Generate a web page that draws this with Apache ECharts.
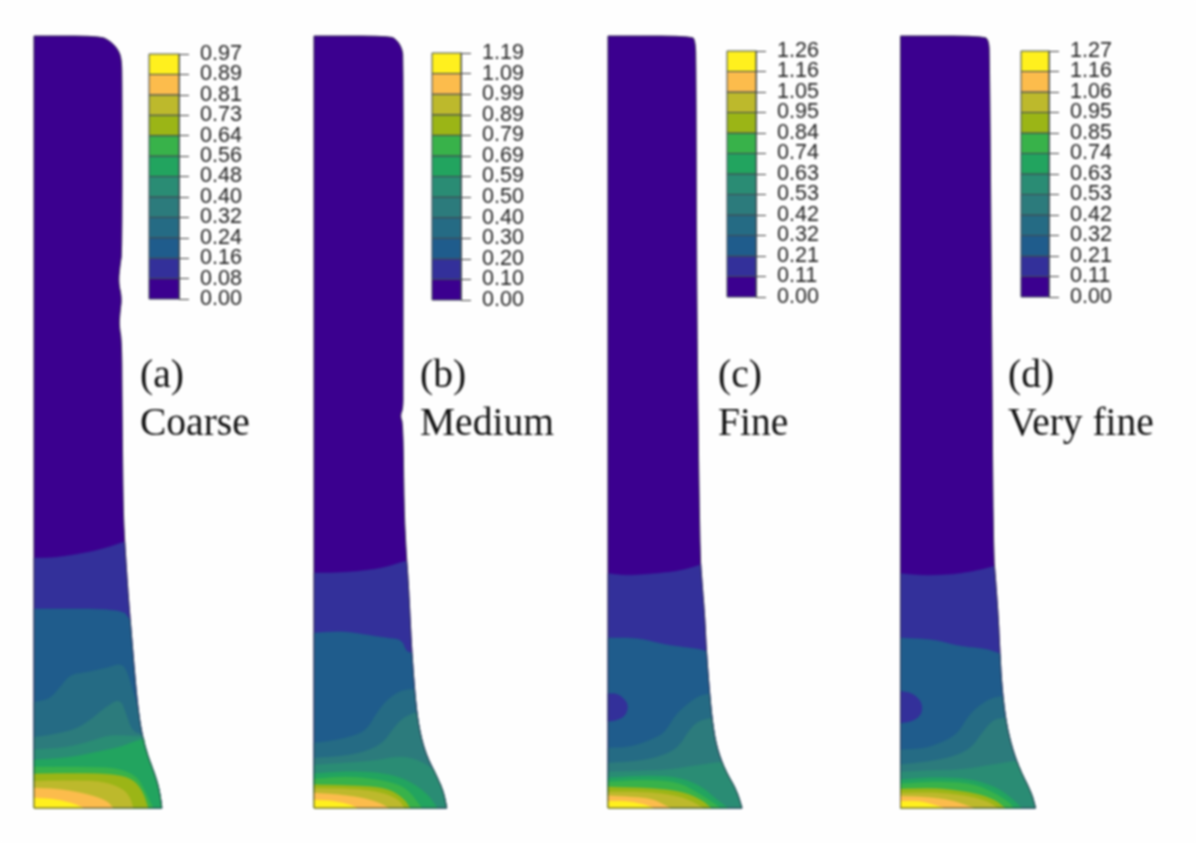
<!DOCTYPE html>
<html><head><meta charset="utf-8">
<style>html,body{margin:0;padding:0;background:#fefefe}#main{width:1196px;height:843px;filter:blur(0.8px)}</style>
<script src="https://cdn.jsdelivr.net/npm/echarts@6/dist/echarts.min.js"></script>
</head><body><div id="main"></div>
<script>
// Contour colours, lowest band first
const bandColors = ['#3B008F','#33309A','#1F5C8C','#256B84','#2C7B7C','#2A8C74','#22A45F','#38B24A','#9BB516','#BDB92C','#FCBC4C','#FFF01E'];

// Colour-bar tick labels, bottom to top
const ticksCoarse = ['0.00','0.08','0.16','0.24','0.32','0.40','0.48','0.56','0.64','0.73','0.81','0.89','0.97'];
const ticksMedium = ['0.00','0.10','0.20','0.30','0.40','0.50','0.59','0.69','0.79','0.89','0.99','1.09','1.19'];
const ticksFine = ['0.00','0.11','0.21','0.32','0.42','0.53','0.63','0.74','0.84','0.95','1.05','1.16','1.26'];
const ticksVeryFine = ['0.00','0.11','0.21','0.32','0.42','0.53','0.63','0.74','0.85','0.95','1.06','1.16','1.27'];

// Specimen outlines: right-hand edge from top to bottom [x, height]
const outlineCoarse = [[0,772],[66,772],[76,767],[83.7,759],[87.3,750],[88,730],[88,556],[86,543],[84.3,526],[87.7,510],[86,496],[85,483],[87.7,466],[88,408],[89,308],[90,278],[92,245],[94.3,211],[97,178],[100.3,138],[103.3,105],[107,78],[112.7,55],[121,33],[125.3,18],[127.7,1],[127.7,0]];
const outlineMedium = [[0,772],[76,772],[82.7,768],[87.7,760],[89.3,750],[89,420],[89,400],[86,392],[89,384],[90,300],[92,258],[94.3,225],[96,191.7],[97.7,158],[100,125],[102.7,95],[106.7,71.7],[112.7,51.7],[122.7,31.7],[129.3,16.7],[132.7,0]];
const outlineFine = [[0,772],[84,772],[87,767],[88,750],[88.7,500],[91.7,258],[94,225],[96.7,191.7],[98.3,158],[100.7,125],[104,88.3],[108.3,61.7],[116.7,38.3],[128.3,18.3],[134,0]];
const outlineVeryFine = [[0,772],[84,772],[88,767],[89,755],[91,500],[92.7,258],[95.3,225],[97.7,191.7],[99.3,158],[101,125],[105,88.3],[111,61.7],[119.3,38.3],[131,15],[135,0]];

// Contour lines: each runs from the left edge to the outline or the base
const contoursCoarse = [
  [[0,250],[19,250],[46,254],[69,259],[90,266]],
  [[0,199],[88,199],[96,188]],
  [[0,105.7],[16,109],[26,120.7],[36,133.3],[52.7,135.7],[72.7,140],[87.7,144.7],[93.3,135.7],[98.7,117.3],[103.5,100.7]],
  [[0,70.7],[19.3,73.3],[42.7,79],[57.7,89],[69.3,99],[86,110],[92,94],[97.7,77.3],[108,73.3]],
  [[0,58.5],[30,60],[55,66],[75,73],[95,72],[108.5,71.5]],
  [[0,48],[36,50.3],[62.7,56],[86,60.7],[101,66.7],[110,69]],
  [[0,41],[52.7,41],[82.7,40],[102.7,32],[111,17],[119,0]],
  [[0,34],[36,34.7],[79,34],[99,29],[109,16],[114,0]],
  [[0,26.7],[36,27.3],[69,26.7],[89,19],[96,10.7],[99,0]],
  [[0,20],[26,19],[53,14],[73,7.3],[79,0]],
  [[0,10],[19,9],[39,4.7],[49,0]]
];
const contoursMedium = [
  [[0,235],[19.3,235],[46,236.7],[69.3,240],[91,246.7]],
  [[0,175],[29.3,176.7],[52.7,173],[72.7,170],[87.7,168.3],[92,156.7],[97.7,155]],
  [[0,65],[16,66.7],[39,71.7],[52.7,78],[62.7,95],[72.7,108],[86,117],[97,119],[100,118.3]],
  [[0,50],[29.3,51.7],[52.7,56.7],[69.3,65],[81,81.7],[89.3,90],[99.3,95],[102.7,95]],
  [[0,43],[30,45],[60,47],[85,52],[105,48],[120,38]],
  [[0,34.3],[36,36.7],[69.3,35],[92.7,28.3],[112.7,15],[123.3,0]],
  [[0,29],[36,31.7],[72.7,27],[92.7,20],[107.7,0]],
  [[0,23.3],[42.7,22.3],[72.7,20],[89.3,10],[96,0]],
  [[0,19.5],[42.7,19],[70,15],[85,8],[90,0]],
  [[0,15],[26,13.3],[49.3,10],[66,5],[74.3,0]],
  [[0,8],[19.3,7],[36,3.3],[42.7,0]]
];
const contoursFine = [
  [[0,234.3],[20,232.3],[46.7,234.3],[70,236.7],[88.3,241.7],[92.7,243.3]],
  [[0,170],[30,170],[53.3,164],[73.3,161],[90,159],[98.3,156.7]],
  [[0,60],[23.3,61],[43.3,68.3],[56.7,75],[66.7,91.7],[76.7,101.7],[90,111.7],[101,114.3]],
  [[0,45],[30,46.7],[53.3,51.7],[70,60],[81.7,78.3],[90,86.7],[103.5,90]],
  [[0,36],[30,37],[60,38],[85,42],[105,45],[113.6,46]],
  [[0,30],[36.7,32.3],[70,31],[93.3,21.7],[106.7,10],[120,0]],
  [[0,26],[36,28],[70,26],[90,15],[104,6],[112,0]],
  [[0,21],[40,20],[73.3,16.7],[93.3,8.3],[103,0]],
  [[0,16],[40,16],[70,12],[85,6],[95,0]],
  [[0,12.3],[25,11],[45,9],[62,0]],
  [[0,6.7],[20,6.7],[36.7,3.3],[45,0]]
];
const contoursVeryFine = [
  [[0,234.3],[24.3,232.3],[51,233.3],[74.3,236.7],[93.7,241.7]],
  [[0,170],[34.3,168.3],[57.7,161.7],[84.3,159.3],[97.7,155]],
  [[0,58.3],[24.3,59.3],[44.3,66.7],[57.7,75],[67.7,91.7],[77.7,101.7],[91,110],[101.5,111.7]],
  [[0,43.3],[31,46.7],[54.3,51.7],[71,60],[82.7,76.7],[92.7,88.3],[104.5,90]],
  [[0,36],[30,37.5],[60,38],[90,43],[108,46],[115,47]],
  [[0,28.3],[34.3,30.7],[71,29],[97.7,20],[112.7,8.3],[121,0]],
  [[0,24],[36,26.5],[72,24.5],[94,15],[108,6],[113,0]],
  [[0,19],[37.7,20],[74.3,15],[94.3,8.3],[104.3,0]],
  [[0,15],[38,15.5],[70,11.5],[88,6],[97,0]],
  [[0,11.7],[24.3,11],[47.7,8.3],[64.3,3.3],[72.7,0]],
  [[0,6.7],[21,6.7],[37.7,1.7],[42.7,0]]
];

// Low-value pocket on the left edge
const pocketFine = [[0,114.3],[10,114.3],[18.3,106.7],[20,100],[16.7,91.7],[8.3,87.7],[0,86.7]];
const pocketVeryFine = [[0,116.7],[11,115],[19.3,108.3],[22,100],[19.3,91.7],[11,86.7],[0,85]];

const panelTitles = ['(a)\nCoarse','(b)\nMedium','(c)\nFine','(d)\nVery fine'];

// Layout
const panels = [
  {left:34,  base:808, outline:outlineCoarse,   contours:contoursCoarse,   pocket:null,           ticks:ticksCoarse,   bar:[149,54,30,245], titleX:140},
  {left:314, base:808, outline:outlineMedium,   contours:contoursMedium,   pocket:null,           ticks:ticksMedium,   bar:[432,53,29,247], titleX:420},
  {left:608, base:808, outline:outlineFine,     contours:contoursFine,     pocket:pocketFine,     ticks:ticksFine,     bar:[727,51,29,246], titleX:718},
  {left:900.5,base:808,outline:outlineVeryFine, contours:contoursVeryFine, pocket:pocketVeryFine, ticks:ticksVeryFine, bar:[1021,51,28,246], titleX:1008}
];
const W = 140, H = 780;

// Rounds a drawn polyline's corners, keeping its two ends in place
function rounded(line, passes){
  let out = line;
  for(let n=0;n<passes;n++){
    const next=[out[0]];
    for(let i=0;i<out.length-1;i++){
      const a=out[i], b=out[i+1];
      next.push([a[0]*.75+b[0]*.25,a[1]*.75+b[1]*.25],[a[0]*.25+b[0]*.75,a[1]*.25+b[1]*.75]);
    }
    next.push(out[out.length-1]);
    out=next;
  }
  return out;
}
function polygonSeries(pts, idx, fill, stroke, z){
  return {type:'custom', xAxisIndex:idx, yAxisIndex:idx, silent:true, animation:false, clip:false, z,
    data:pts, encode:{x:0,y:1},
    renderItem(params, api){
      if(params.dataIndex!==0) return null;
      return {type:'polygon', shape:{points:pts.map(p=>api.coord(p))},
        style:{fill:fill, stroke:stroke||fill, lineWidth:stroke?1:0.5}, silent:true};
    }};
}
function levelRegion(curve, outline){
  const end = curve[curve.length-1][1];
  return rounded(curve,2).concat(outline.filter(p=>p[1]<end)).concat([[0,0]]);
}

const grids=[], xAxes=[], yAxes=[], series=[], titles=[];
panels.forEach((p,i)=>{
  grids.push({left:p.left, top:p.base-H, width:W, height:H});
  xAxes.push({type:'value',gridIndex:grids.length-1,min:0,max:W,show:false});
  yAxes.push({type:'value',gridIndex:grids.length-1,min:0,max:H,show:false});
  const g = grids.length-1;
  const edge = rounded(p.outline,2);
  const whole = edge.concat([[0,0]]);
  series.push(polygonSeries(whole,g,bandColors[0],null,2));
  p.contours.forEach((c,k)=>{
    series.push(polygonSeries(levelRegion(c,edge),g,bandColors[k+1],null,3+k));
  });
  if(p.pocket) series.push(polygonSeries(rounded(p.pocket,2),g,bandColors[1],null,20));
  series.push(polygonSeries(whole,g,'none','rgba(45,45,60,0.7)',21));

  // colour bar
  grids.push({left:p.bar[0],top:p.bar[1],width:p.bar[2],height:p.bar[3]});
  const b = grids.length-1;
  xAxes.push({type:'value',gridIndex:b,min:0,max:1,show:false});
  yAxes.push({type:'value',gridIndex:b,min:0,max:12,interval:1,position:'right',
    axisLine:{show:true,onZero:false,lineStyle:{color:'#555',width:1}},splitLine:{show:false},
    axisTick:{show:true,inside:false,length:10,lineStyle:{color:'#444',width:1}},
    axisLabel:{show:false}});
  series.push({type:'custom',xAxisIndex:b,yAxisIndex:b,silent:true,animation:false,clip:false,z:1,
    data:p.ticks.map((t,k)=>[k]),encode:{y:0},
    renderItem(params,api){
      const k=api.value(0);
      const base=api.coord([1,k]);
      const children=[{type:'text',style:{text:p.ticks[k],x:base[0]+21,y:base[1],
        fontFamily:'Liberation Sans',fontSize:21.5,fill:'#222',align:'left',verticalAlign:'middle'}}];
      if(k<bandColors.length){
        const a=api.coord([0,k+1]);
        children.unshift({type:'rect',shape:{x:a[0],y:a[1],width:base[0]-a[0],height:base[1]-a[1]},
          style:{fill:bandColors[k],stroke:'#3f4a55',lineWidth:1}});
      }
      return {type:'group',children};
    }});
  titles.push({text:panelTitles[i],left:p.titleX,top:353,padding:0,
    textStyle:{fontFamily:'Liberation Serif',fontSize:39.5,fontWeight:'normal',color:'#111',lineHeight:48}});
});

const chart = echarts.init(document.getElementById('main'),null,{renderer:'canvas'});
chart.setOption({backgroundColor:'#fefefe',animation:false,title:titles,grid:grids,xAxis:xAxes,yAxis:yAxes,series,tooltip:{show:false}});
</script></body></html>
